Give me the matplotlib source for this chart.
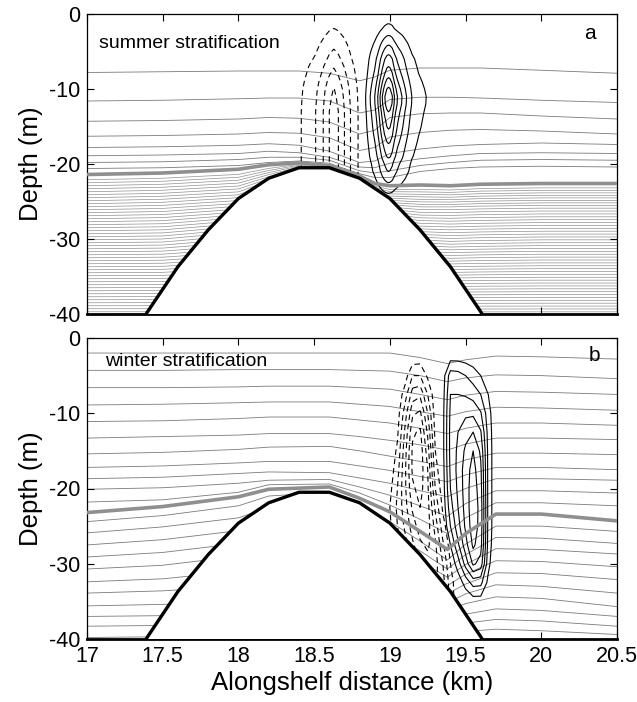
import numpy as np
import matplotlib.pyplot as plt
from matplotlib.ticker import FormatStrFormatter

plt.rcParams['font.family'] = ['Liberation Sans', 'DejaVu Sans']
plt.rcParams['axes.unicode_minus'] = False

# ---- bathymetry (km, m) ----
bathy_x = [17.2, 17.4, 17.6, 17.8, 18.0, 18.2, 18.4, 18.6, 18.8, 19.0, 19.2, 19.4, 19.6, 19.8]
bathy_z = [-46.3, -39.7, -33.7, -28.8, -24.6, -21.9, -20.5, -20.5, -21.9, -24.6, -28.8, -33.7, -39.7, -46.3]

# ---- summer isopycnals: depth of each line along x ----
sum_x = [17.0, 17.5, 18.0, 18.2, 18.4, 18.6, 18.8, 18.9, 19.0, 19.2, 19.4, 19.6, 20.0, 20.5]
sum_upper = [
    [-7.8, -7.7, -7.6, -7.6, -7.6, -7.9, -8.9, -8.4, -7.5, -7.2, -7.2, -7.2, -7.5, -7.9],
    [-11.6, -11.5, -11.3, -11.2, -11.2, -11.6, -13.2, -12.8, -11.4, -11.1, -11.1, -11.2, -11.5, -11.8],
    [-14.3, -14.2, -14.0, -13.8, -13.9, -14.4, -16.0, -15.5, -13.8, -13.3, -13.2, -13.2, -13.6, -14.0],
    [-16.3, -16.2, -16.0, -15.8, -15.9, -16.5, -18.2, -17.8, -16.4, -15.8, -15.5, -15.4, -15.6, -16.0],
    [-17.8, -17.7, -17.5, -17.3, -17.5, -18.3, -19.8, -19.6, -18.6, -18.0, -17.6, -17.4, -17.2, -17.4],
    [-18.9, -18.8, -18.6, -18.3, -18.5, -19.1, -20.4, -20.5, -19.9, -19.3, -18.9, -18.6, -18.5, -18.6],
    [-19.8, -19.7, -19.4, -19.1, -19.1, -19.5, -20.9, -21.2, -20.9, -20.2, -19.8, -19.5, -19.4, -19.5],
    [-20.6, -20.5, -20.2, -19.8, -19.6, -19.9, -21.3, -21.8, -21.8, -21.0, -20.6, -20.4, -20.3, -20.4],
]
sum_thick = [-21.4, -21.2, -20.7, -20.1, -19.85, -20.2, -21.6, -22.6, -22.9, -22.8, -22.9, -22.7, -22.6, -22.6]
# deep layer: upstream depth of reference lines and their depth along x
sum_deep_src = [-21.4, -25.0, -30.0, -40.0, -45.0]
sum_deep_z = [
    sum_thick,
    [-25.0, -24.8, -24.2, -22.6, -20.9, -20.9, -23.0, -24.3, -25.5, -25.8, -25.8, -25.7, -25.6, -25.6],
    [-30.0, -29.9, -29.0, -27.0, -25.0, -25.0, -27.0, -28.5, -29.5, -30.4, -30.6, -30.5, -30.4, -30.4],
    [-40.0] * 14,
    [-45.0] * 14,
]
sum_deep_levels = [-39.7, -39.3, -38.9, -38.5, -38.1, -37.7, -37.3, -36.9, -36.5, -36.1,
                   -35.7, -35.3, -34.9, -34.5, -34.1, -33.7, -33.3, -32.9, -32.5, -32.1,
                   -31.7, -31.3, -30.9, -30.5, -30.1, -29.7, -29.3, -28.9, -28.5, -28.1,
                   -27.7, -27.3, -26.9, -26.5, -26.1, -25.7, -25.3, -24.9, -24.5, -24.1,
                   -23.7, -23.3, -22.9, -22.5, -22.1]

# ---- summer velocity cells (profiles) ----
jet_z = [0, -1, -2, -3, -4, -5, -6, -7, -8, -9, -10, -11, -12, -13,
         -14, -15, -16, -17, -18, -19, -20, -21, -22, -23, -24, -25, -26]
pos_a_x = [18.78, 18.81, 18.84, 18.87, 18.90, 18.92, 18.935, 18.95, 18.965, 18.98, 18.99,
           19.00, 19.015, 19.03, 19.05, 19.08, 19.11, 19.145, 19.19, 19.24, 19.30]
pos_a_xprof = [0.0, 0.05, 0.1, 0.2, 0.3, 0.4, 0.5, 0.6, 0.69, 0.76, 0.78,
               0.77, 0.71, 0.6, 0.5, 0.4, 0.3, 0.2, 0.14, 0.1, 0.0]
pos_a_zprof = [0.06, 0.11, 0.17, 0.27, 0.37, 0.47, 0.57, 0.64, 0.72, 0.82, 0.92, 1.00, 0.98, 0.90,
               0.84, 0.79, 0.73, 0.66, 0.59, 0.53, 0.44, 0.385, 0.30, 0.21, 0.12, 0.04, 0.0]
neg_a_x = [18.36, 18.415, 18.47, 18.51, 18.56, 18.60, 18.63, 18.66, 18.70, 18.74, 18.79, 18.83]
neg_a_xprof = [0.0, 0.1, 0.16, 0.2, 0.3, 0.4, 0.45, 0.4, 0.3, 0.2, 0.1, 0.0]
neg_a_zprof = [0.0, 0.12, 0.23, 0.31, 0.39, 0.47, 0.55, 0.65, 0.73, 0.82, 0.9, 0.94, 0.97, 1.0,
               1.0, 1.0, 1.0, 1.0, 1.0, 1.0, 1.0, 1.0, 1.0, 1.0, 1.0, 1.0, 1.0]

# ---- winter isopycnals ----
win_x = [17.0, 17.5, 18.0, 18.2, 18.6, 18.8, 19.0, 19.2, 19.38, 19.5, 19.7, 20.0, 20.5]
win_lines = [
    [-2.0, -2.0, -2.0, -2.0, -2.0, -2.0, -2.0, -2.6, -3.4, -2.9, -2.4, -2.5, -2.8],
    [-4.3, -4.3, -4.2, -4.2, -4.2, -4.3, -4.4, -5.0, -5.8, -5.3, -4.9, -5.0, -5.4],
    [-6.6, -6.6, -6.5, -6.4, -6.4, -6.6, -6.8, -7.5, -8.2, -7.6, -7.1, -7.2, -7.5],
    [-8.9, -8.8, -8.6, -8.5, -8.5, -8.8, -9.1, -9.8, -10.4, -9.8, -9.2, -9.3, -9.6],
    [-11.1, -11.0, -10.7, -10.5, -10.5, -10.9, -11.3, -12.0, -12.7, -12.0, -11.3, -11.3, -11.6],
    [-13.3, -13.1, -12.9, -12.7, -12.7, -13.1, -13.6, -14.2, -14.9, -14.1, -13.3, -13.3, -13.5],
    [-15.4, -15.2, -14.8, -14.5, -14.4, -15.0, -15.7, -16.4, -17.1, -16.2, -15.3, -15.3, -15.5],
    [-17.2, -17.0, -16.6, -16.4, -16.4, -17.0, -17.6, -18.4, -19.1, -18.2, -17.2, -17.2, -17.5],
    [-18.7, -18.5, -18.0, -17.8, -17.9, -18.6, -19.3, -20.3, -21.1, -20.0, -18.7, -18.7, -18.9],
    [-20.1, -19.9, -19.3, -18.9, -18.8, -19.8, -20.9, -22.3, -23.7, -22.0, -20.3, -20.3, -20.6],
    [-21.8, -21.5, -20.5, -19.5, -19.4, -20.6, -22.2, -24.1, -26.0, -23.9, -21.9, -21.9, -22.3],
    [-24.4, -23.6, -22.3, -21.0, -20.5, -22.3, -24.4, -27.0, -29.5, -27.4, -25.0, -25.0, -25.7],
    [-25.9, -25.1, -23.9, -22.5, -21.5, -23.5, -25.8, -28.3, -30.7, -28.8, -26.5, -26.6, -27.3],
    [-27.5, -26.8, -25.6, -24.0, -23.0, -25.0, -27.2, -29.6, -31.8, -30.1, -28.0, -28.1, -28.7],
    [-29.1, -28.5, -27.3, -25.5, -24.5, -26.5, -28.6, -30.9, -32.9, -31.4, -29.6, -29.7, -30.4],
    [-30.7, -30.2, -29.0, -27.0, -26.0, -28.0, -30.0, -32.2, -34.0, -32.7, -31.2, -31.3, -32.1],
    [-32.4, -32.0, -31.0, -29.0, -28.0, -30.0, -31.5, -33.5, -35.2, -34.0, -32.8, -33.0, -33.9],
    [-33.9, -33.6, -33.0, -31.0, -30.0, -32.0, -33.0, -34.8, -36.3, -35.3, -34.4, -34.6, -35.7],
    [-35.6, -35.4, -35.0, -33.0, -32.0, -34.0, -35.0, -36.2, -37.5, -36.7, -36.0, -36.2, -37.0],
    [-37.0, -36.9, -36.6, -35.0, -34.0, -36.0, -36.5, -37.4, -38.5, -37.9, -37.4, -37.6, -38.3],
    [-38.3, -38.2, -38.0, -37.0, -36.0, -37.5, -38.0, -38.6, -39.4, -39.0, -38.7, -38.9, -39.4],
    [-39.8, -39.7, -39.6, -39.0, -38.0, -39.0, -39.5, -39.9, -40.5, -40.3, -40.1, -40.2, -40.5],
]
win_thick = [-23.2, -22.4, -21.1, -20.1, -19.8, -21.3, -23.1, -25.7, -28.1, -26.0, -23.4, -23.4, -24.3]

# ---- winter velocity cells (gridded values) ----
win_jet_z = [0, -2.5, -5, -7.5, -10, -12.5, -15, -17.5, -20, -22.5, -25, -27.5, -30, -32.5, -35, -37.5]
pos_b_x = [19.30, 19.35, 19.40, 19.45, 19.50, 19.55, 19.60, 19.65, 19.70, 19.75]
pos_b_u = [
    [0, 0, 0, 0, 0, 0, 0, 0, 0, 0],
    [0, 0, 0.06, 0.06, 0.05, 0.04, 0.02, 0, 0, 0],
    [0, 0.05, 0.25, 0.24, 0.20, 0.15, 0.10, 0.04, 0, 0],
    [0, 0.06, 0.30, 0.30, 0.29, 0.26, 0.20, 0.10, 0.01, 0],
    [0, 0.07, 0.32, 0.36, 0.38, 0.38, 0.31, 0.14, 0.02, 0],
    [0, 0.07, 0.33, 0.40, 0.46, 0.50, 0.41, 0.16, 0.02, 0],
    [0, 0.07, 0.33, 0.42, 0.52, 0.60, 0.48, 0.17, 0.02, 0],
    [0, 0.06, 0.32, 0.43, 0.55, 0.64, 0.52, 0.17, 0.02, 0],
    [0, 0.05, 0.30, 0.42, 0.55, 0.66, 0.54, 0.17, 0.02, 0],
    [0, 0.03, 0.26, 0.40, 0.54, 0.67, 0.56, 0.17, 0.02, 0],
    [0, 0, 0.20, 0.36, 0.52, 0.66, 0.56, 0.17, 0.02, 0],
    [0, 0, 0.10, 0.28, 0.46, 0.62, 0.54, 0.16, 0.01, 0],
    [0, 0, 0.02, 0.15, 0.34, 0.52, 0.46, 0.13, 0, 0],
    [0, 0, 0, 0.04, 0.14, 0.24, 0.23, 0.07, 0, 0],
    [0, 0, 0, 0, 0.02, 0.05, 0.05, 0.01, 0, 0],
    [0, 0, 0, 0, 0, 0, 0, 0, 0, 0],
]
neg_b_x = [18.95, 19.00, 19.05, 19.10, 19.15, 19.20, 19.25, 19.30, 19.35, 19.40, 19.45]
neg_b_u = [
    [0, 0, 0, 0, 0, 0, 0, 0, 0, 0, 0],
    [0, 0, 0, 0, 0.03, 0.04, 0.02, 0, 0, 0, 0],
    [0, 0, 0, 0.05, 0.20, 0.20, 0.08, 0, 0, 0, 0],
    [0, 0, 0.02, 0.15, 0.35, 0.38, 0.20, 0.03, 0, 0, 0],
    [0, 0, 0.05, 0.25, 0.48, 0.52, 0.30, 0.05, 0, 0, 0],
    [0, 0, 0.08, 0.32, 0.58, 0.62, 0.38, 0.07, 0, 0, 0],
    [0, 0.02, 0.12, 0.36, 0.62, 0.66, 0.45, 0.10, 0, 0, 0],
    [0, 0.04, 0.16, 0.38, 0.62, 0.66, 0.50, 0.14, 0.02, 0, 0],
    [0, 0.07, 0.20, 0.38, 0.58, 0.64, 0.52, 0.20, 0.04, 0, 0],
    [0, 0.10, 0.22, 0.36, 0.52, 0.60, 0.54, 0.28, 0.08, 0, 0],
    [0, 0.08, 0.20, 0.32, 0.45, 0.55, 0.55, 0.36, 0.14, 0.02, 0],
    [0, 0.05, 0.16, 0.26, 0.38, 0.48, 0.52, 0.42, 0.22, 0.05, 0],
    [0, 0.02, 0.10, 0.20, 0.30, 0.40, 0.46, 0.44, 0.30, 0.10, 0],
    [0, 0, 0.05, 0.12, 0.22, 0.32, 0.40, 0.42, 0.34, 0.15, 0.02],
    [0, 0, 0, 0.06, 0.14, 0.24, 0.32, 0.36, 0.32, 0.16, 0.03],
    [0, 0, 0, 0.02, 0.06, 0.12, 0.18, 0.22, 0.22, 0.12, 0.02],
]

pos_levels_a = [0.1, 0.2, 0.3, 0.4, 0.5, 0.6, 0.7]
neg_levels_a = [0.1, 0.2, 0.3, 0.4]
pos_levels_b = [0.1, 0.2, 0.3, 0.4, 0.5, 0.6]
neg_levels_b = [0.1, 0.2, 0.3, 0.4, 0.5, 0.6]

THIN = '#7a7a7a'
DEEP = '#909090'
THICK = '#8f8f8f'
DASH = (0, (5, 3.5))


def style_axes(ax, show_x):
    ax.set_xlim(17, 20.5)
    ax.set_ylim(-40, 0)
    ax.set_xticks([17, 17.5, 18, 18.5, 19, 19.5, 20, 20.5])
    ax.set_yticks([-40, -30, -20, -10, 0])
    ax.xaxis.set_major_formatter(FormatStrFormatter('%g'))
    ax.yaxis.set_major_formatter(FormatStrFormatter('%g'))
    ax.tick_params(direction='in', top=True, right=True, length=5, width=0.8,
                   labelsize=15.5, pad=5)
    if not show_x:
        ax.tick_params(labelbottom=False)
    for s in ['top', 'left', 'right']:
        ax.spines[s].set_linewidth(0.9)
    ax.spines['bottom'].set_linewidth(2.0)
    ax.set_ylabel('Depth (m)', fontsize=18.5, labelpad=4)


def draw_bottom(ax):
    ax.fill_between(bathy_x, bathy_z, -50, facecolor='white', edgecolor='none', zorder=3)
    ax.plot(bathy_x, bathy_z, color='black', lw=2.4, zorder=5, solid_joinstyle='miter')


fig = plt.figure(figsize=(6.37, 7.02), dpi=100)
ax_a = fig.add_axes([87 / 637, 1 - 314 / 702, 530 / 637, 300 / 702])
ax_b = fig.add_axes([87 / 637, 1 - 639 / 702, 530 / 637, 301 / 702])

# ---------- panel a: summer ----------
for line in sum_upper:
    ax_a.plot(sum_x, line, color=THIN, lw=0.6, zorder=1)
X = np.tile(sum_x, (len(sum_deep_src), 1))
Z = np.array(sum_deep_z)
C = np.repeat(np.array(sum_deep_src)[:, None], len(sum_x), axis=1)
ax_a.contour(X, Z, C, levels=sum_deep_levels, colors=DEEP, linewidths=0.5,
             linestyles='solid', zorder=1)
ax_a.plot(sum_x, sum_thick, color=THICK, lw=2.6, zorder=4)

u_pos = np.outer(pos_a_zprof, pos_a_xprof)
ax_a.contour(pos_a_x, jet_z, u_pos, levels=pos_levels_a, colors='black',
             linewidths=0.8, linestyles='solid', zorder=2)
u_neg = np.outer(neg_a_zprof, neg_a_xprof)
ax_a.contour(neg_a_x, jet_z, u_neg, levels=neg_levels_a, colors='black',
             linewidths=0.8, linestyles=[DASH], zorder=2)
draw_bottom(ax_a)
style_axes(ax_a, False)
ax_a.text(17.08, -3.9, 'summer stratification', fontsize=14, va='center', ha='left')
ax_a.text(20.32, -2.6, 'a', fontsize=15, va='center', ha='center')

# ---------- panel b: winter ----------
for line in win_lines:
    ax_b.plot(win_x, line, color=THIN, lw=0.6, zorder=1)
ax_b.plot(win_x, win_thick, color=THICK, lw=2.6, zorder=4)
ax_b.contour(pos_b_x, win_jet_z, np.array(pos_b_u), levels=pos_levels_b, colors='black',
             linewidths=0.8, linestyles='solid', zorder=2)
ax_b.contour(neg_b_x, win_jet_z, np.array(neg_b_u), levels=neg_levels_b, colors='black',
             linewidths=0.8, linestyles=[DASH], zorder=2)
draw_bottom(ax_b)
style_axes(ax_b, True)
ax_b.set_xlabel('Alongshelf distance (km)', fontsize=18.5, labelpad=3)
ax_b.text(17.12, -3.1, 'winter stratification', fontsize=14, va='center', ha='left')
ax_b.text(20.35, -2.3, 'b', fontsize=15, va='center', ha='center')

fig.savefig('out.png', dpi=100)
